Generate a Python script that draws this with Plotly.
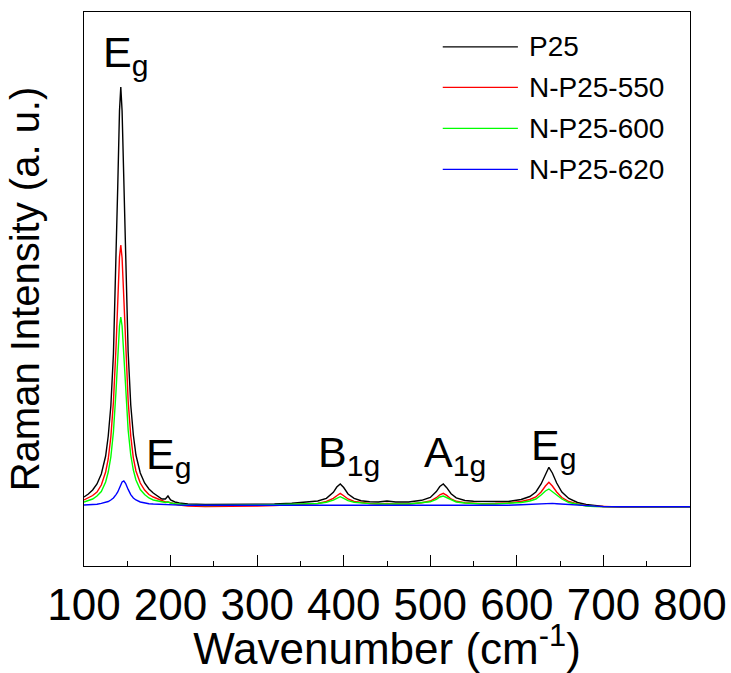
import plotly.graph_objects as go

# Raman shift grid (cm^-1), denser around the bands
wavenumber = [100, 105, 110, 115, 120, 125, 128, 131, 134, 137, 139, 141, 142.5, 144, 146,
              148, 151, 154, 157, 160, 165, 170, 175, 180, 185, 190, 194, 197, 200, 205,
              210, 220, 240, 260, 280, 300, 320, 340, 360, 370, 380, 388, 392, 396, 400,
              405, 412, 420, 430, 440, 450, 460, 475, 490, 500, 507, 511, 515, 519, 524,
              530, 540, 550, 560, 575, 590, 605, 615, 622, 628, 633, 637, 641, 646, 652,
              660, 670, 680, 690, 700, 720, 740, 760, 780, 800]

# Intensities (a. u.)
p25 = [69, 72, 76, 82, 92, 110, 130, 160, 212, 300, 380, 455, 479, 455, 383,
       303, 214, 161, 131, 111, 93, 83, 77, 73, 70, 67, 67, 70, 66, 64,
       63, 62, 61.5, 61.5, 61.5, 61.7, 62, 62.7, 64, 65, 67.6, 73.6, 79, 82, 78.5,
       72, 67.6, 65.3, 64.3, 64, 65, 64, 64, 65.7, 68.6, 74.4, 79.5, 82, 78.3, 72.3,
       68.2, 65.5, 64.8, 64.5, 64.5, 64.5, 66.5, 69.5, 74, 82, 92, 98.7, 93, 83, 74,
       67.5, 63.5, 61.5, 60.5, 59.5, 59.3, 59.2, 59.3, 59.2, 59.3]

n_p25_550 = [66, 68, 70.5, 74, 81, 94, 107, 129, 164, 219, 267, 309, 321, 308, 268,
             219, 165, 130, 108, 95, 83, 76, 71.5, 69, 67, 65, 64, 64, 63, 62,
             61, 60, 59.5, 59.5, 59.8, 60, 60.5, 61, 61.8, 62.5, 64.5, 67.6, 70.3, 72.7, 70.3,
             67, 64.5, 63.3, 62.5, 62, 62.5, 62, 62, 63.3, 65, 68.3, 71.2, 72.7, 70.6, 67,
             64.7, 63.2, 62.5, 62.3, 62.5, 63, 64.5, 66.5, 69, 74, 80, 83.7, 80, 74, 68.5,
             64.5, 62, 60.5, 59.8, 59.3, 59, 58.8, 59, 58.8, 59]

n_p25_600 = [64, 65.5, 67, 70, 74.5, 84, 94, 109, 134, 175, 209, 240, 249, 240, 211,
             177, 136, 111, 96, 86, 76.5, 71.5, 68, 66, 65, 64, 63.5, 64, 63, 62.3,
             61.8, 61, 60.5, 60.5, 60.7, 61, 61.3, 61.5, 62, 62.5, 63.8, 65.8, 67.7, 69.3, 67.7,
             65.3, 63.8, 63, 62.4, 62, 62.3, 62, 62, 63, 64.2, 66.7, 69, 70, 68.4, 65.8,
             64, 63, 62.3, 62, 62, 62.5, 63.5, 65, 67, 71, 75, 77, 74.5, 71, 67,
             63.5, 61.5, 60, 59.5, 59.3, 59.3, 59.2, 59.3, 59.2, 59.3]

n_p25_620 = [61, 61, 61.2, 61.7, 62.6, 63.5, 64.5, 66, 68, 71.4, 74, 78, 81.5, 84, 85,
             82.7, 76.6, 71.4, 68, 66, 64, 63, 62.3, 62, 61.7, 61.5, 61.3, 61.2, 61.1, 61,
             60.9, 60.8, 60.7, 60.6, 60.6, 60.5, 60.5, 60.5, 60.5, 60.5, 60.6, 60.7, 60.8, 60.8, 60.7,
             60.6, 60.5, 60.4, 60.4, 60.4, 60.4, 60.3, 60.3, 60.3, 60.4, 60.5, 60.5, 60.6, 60.5, 60.5,
             60.4, 60.4, 60.4, 60.5, 60.6, 60.8, 61.2, 61.6, 62, 62.4, 62.7, 62.8, 62.6, 62.3, 62,
             61.5, 60.8, 60.2, 59.7, 59.4, 59.2, 59.1, 59.2, 59.1, 59.2]

series_names = ["P25", "N-P25-550", "N-P25-600", "N-P25-620"]
series_values = [p25, n_p25_550, n_p25_600, n_p25_620]
series_colors = ["#000000", "#ff0000", "#00ff00", "#0000ff"]

# Raman mode labels and where they sit (wavenumber, intensity)
mode_labels = ["E<sub>g</sub>", "E<sub>g</sub>", "B<sub>1g</sub>", "A<sub>1g</sub>", "E<sub>g</sub>"]
mode_x = [119.6, 169.3, 368, 490, 614]
mode_y = [482, 80, 82, 82, 89]

FONT = "Liberation Sans, Arial, sans-serif"

fig = go.Figure()
for name, vals, col in zip(series_names, series_values, series_colors):
    fig.add_trace(go.Scatter(x=wavenumber, y=vals, mode="lines", name=name,
                             line=dict(color=col, width=1.4), showlegend=False))

# legend drawn as line samples + labels inside the frame
leg_x0, leg_x1, leg_tx = 0.592, 0.716, 0.731
leg_y = [0.937, 0.864, 0.790, 0.716]
shapes = []
annotations = []
for name, col, yy in zip(series_names, series_colors, leg_y):
    shapes.append(dict(type="line", xref="paper", yref="paper", x0=leg_x0, x1=leg_x1,
                       y0=yy, y1=yy, line=dict(color=col, width=1.4)))
    annotations.append(dict(xref="paper", yref="paper", x=leg_tx, y=yy, text=name,
                            showarrow=False, xanchor="left", yanchor="middle",
                            font=dict(family=FONT, size=28, color="black")))

for txt, xx, yy in zip(mode_labels, mode_x, mode_y):
    annotations.append(dict(xref="x", yref="y", x=xx, y=yy, text=txt, showarrow=False,
                            xanchor="left", yanchor="bottom",
                            font=dict(family=FONT, size=43, color="black")))

fig.update_layout(
    width=731, height=673,
    margin=dict(l=84, r=41, t=12, b=107, autoexpand=False),
    paper_bgcolor="white", plot_bgcolor="white",
    font=dict(family=FONT, color="black"),
    shapes=shapes, annotations=annotations,
)

fig.update_xaxes(
    range=[100, 800], tick0=100, dtick=100, automargin=False,
    showline=True, mirror=True, linecolor="black", linewidth=1.3,
    ticks="inside", ticklen=11, tickwidth=1.2, tickcolor="black",
    minor=dict(dtick=50, ticks="inside", ticklen=5, tickwidth=1.2, tickcolor="black"),
    showgrid=False, zeroline=False,
    tickfont=dict(family=FONT, size=44, color="black"),
    title=dict(text="Wavenumber (cm<sup>-1</sup>)", font=dict(family=FONT, size=44, color="black"),
               standoff=0),
)
fig.update_yaxes(
    range=[0, 554], automargin=False,
    showline=True, mirror=True, linecolor="black", linewidth=1.3,
    ticks="", showticklabels=False, showgrid=False, zeroline=False,
    title=dict(text="Raman Intensity (a. u.)", font=dict(family=FONT, size=40, color="black"),
               standoff=30),
)

fig.write_html("out.html")
